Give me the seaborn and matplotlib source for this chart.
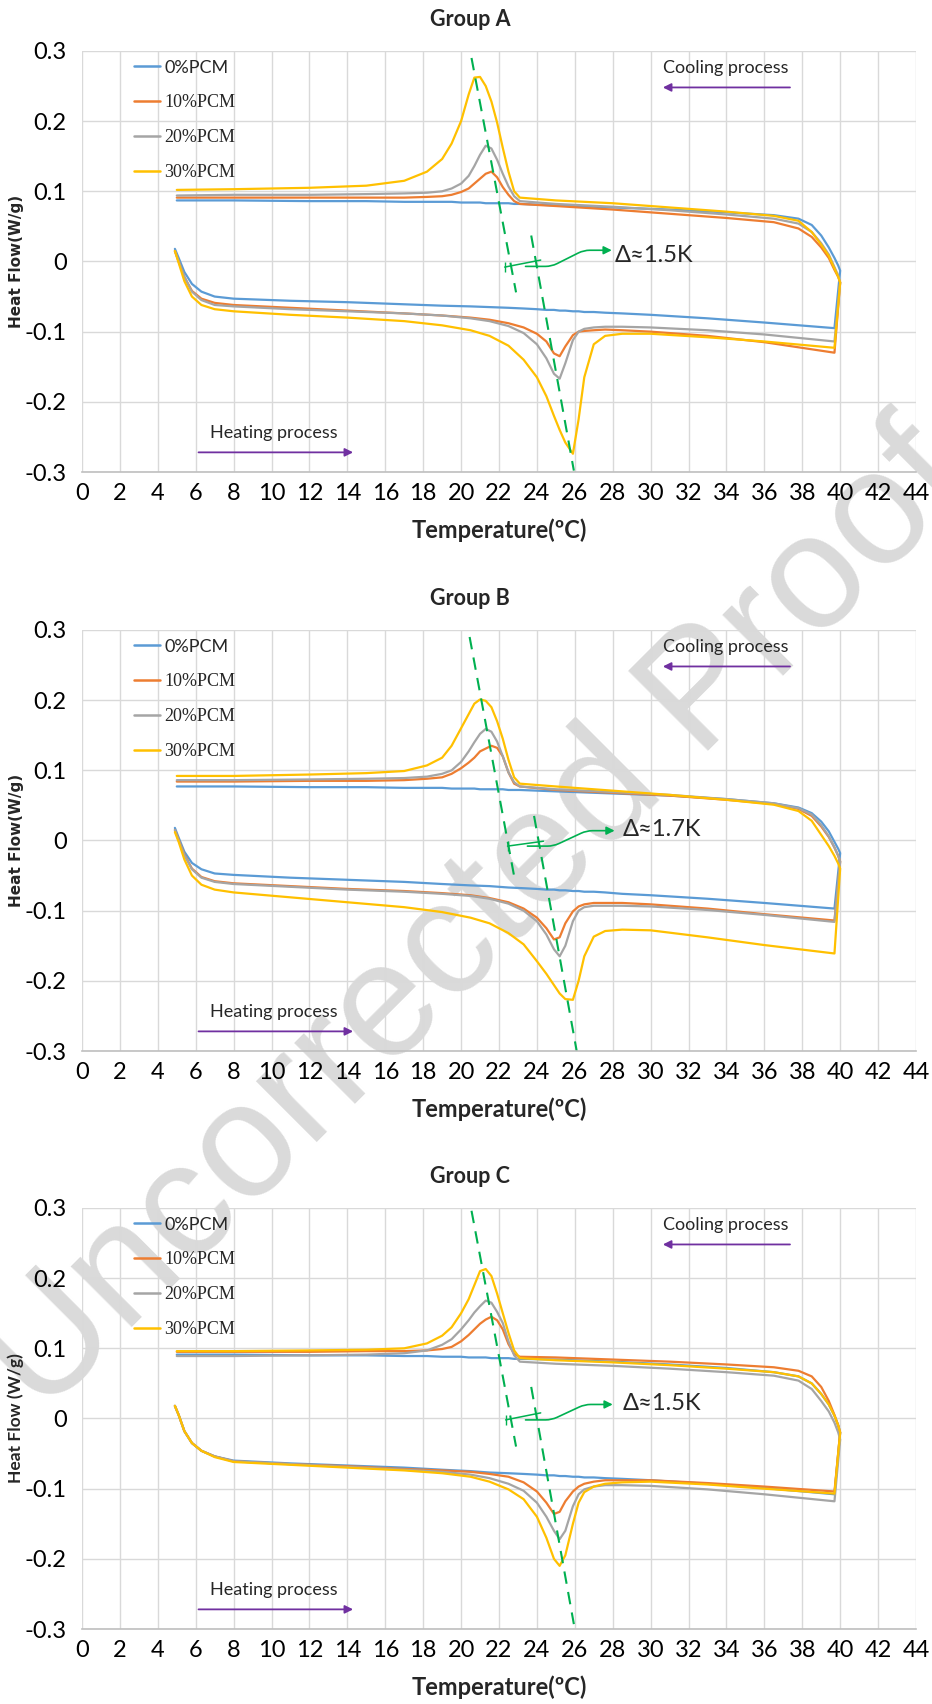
import matplotlib
matplotlib.use("Agg")
import matplotlib.pyplot as plt
import pandas as pd
import seaborn as sns

# series / labels
SERIES = ["0%PCM", "10%PCM", "20%PCM", "30%PCM"]
COLORS = ["#5B9BD5", "#ED7D31", "#A5A5A5", "#FFC000"]
GROUPS = ["Group A", "Group B", "Group C"]
YLABELS = ["Heat Flow(W/g)", "Heat Flow(W/g)", "Heat Flow (W/g)"]
DELTAS = ["Δ≈1.5K", "Δ≈1.7K", "Δ≈1.5K"]

XTICKS = list(range(0, 46, 2))
YTICKS = [-0.3, -0.2, -0.1, 0.0, 0.1, 0.2, 0.3]
YTICK_LABELS = ["-0.3", "-0.2", "-0.1", "0", "0.1", "0.2", "0.3"]

# temperature read-outs (ºC) : heating run 5 -> 40, cooling run 40 -> 5
HEAT_T = [4.9, 5.1, 5.4, 5.8, 6.3, 7.0, 8.0, 11.0, 14.0, 17.0, 19.0, 20.5, 21.5, 22.5, 23.3,
          24.0, 24.5, 24.9, 25.2, 25.5, 25.9, 26.2, 26.5, 27.0, 27.6, 28.5, 30.0, 33.0, 36.0, 39.7]
COOL_T = [40.0, 39.9, 39.7, 39.4, 39.0, 38.5, 37.8, 36.5, 34.0, 31.0, 28.0, 25.0, 23.1, 22.8, 22.5,
          22.2, 21.9, 21.6, 21.3, 21.0, 20.7, 20.4, 20.0, 19.5, 19.0, 18.2, 17.0, 15.0, 12.0, 8.0, 5.0]

# Group A (W/g)
A_HEAT_0 = [0.018, 0.005, -0.015, -0.032, -0.043, -0.050, -0.053, -0.056, -0.058, -0.061, -0.063, -0.064, -0.065, -0.066, -0.067,
            -0.068, -0.069, -0.069, -0.070, -0.070, -0.071, -0.071, -0.072, -0.072, -0.073, -0.074, -0.076, -0.081, -0.087, -0.095]
A_HEAT_10 = [0.015, 0.000, -0.022, -0.042, -0.053, -0.059, -0.062, -0.066, -0.070, -0.074, -0.077, -0.080, -0.083, -0.088, -0.094,
             -0.103, -0.114, -0.131, -0.135, -0.121, -0.105, -0.100, -0.099, -0.098, -0.097, -0.098, -0.100, -0.106, -0.115, -0.130]
A_HEAT_20 = [0.015, 0.000, -0.022, -0.043, -0.055, -0.062, -0.064, -0.068, -0.071, -0.074, -0.077, -0.081, -0.085, -0.092, -0.102,
             -0.118, -0.138, -0.160, -0.167, -0.145, -0.112, -0.100, -0.096, -0.094, -0.093, -0.093, -0.094, -0.098, -0.104, -0.114]
A_HEAT_30 = [0.015, -0.002, -0.028, -0.050, -0.062, -0.068, -0.071, -0.076, -0.080, -0.085, -0.091, -0.098, -0.106, -0.120, -0.140,
             -0.165, -0.192, -0.220, -0.240, -0.258, -0.274, -0.225, -0.165, -0.118, -0.106, -0.103, -0.103, -0.108, -0.114, -0.123]
A_COOL_0 = [-0.013, -0.006, 0.005, 0.020, 0.037, 0.052, 0.061, 0.066, 0.070, 0.074, 0.077, 0.080, 0.082, 0.082, 0.083,
            0.083, 0.083, 0.083, 0.083, 0.084, 0.084, 0.084, 0.084, 0.085, 0.085, 0.085, 0.085, 0.086, 0.086, 0.087, 0.087]
A_COOL_10 = [-0.030, -0.022, -0.012, 0.005, 0.020, 0.035, 0.047, 0.056, 0.062, 0.068, 0.074, 0.079, 0.082, 0.086, 0.095,
             0.106, 0.120, 0.128, 0.125, 0.118, 0.111, 0.104, 0.099, 0.095, 0.093, 0.092, 0.091, 0.091, 0.091, 0.091, 0.091]
A_COOL_20 = [-0.030, -0.020, -0.008, 0.010, 0.026, 0.042, 0.054, 0.061, 0.067, 0.073, 0.078, 0.082, 0.086, 0.093, 0.107,
             0.125, 0.145, 0.161, 0.165, 0.152, 0.136, 0.122, 0.111, 0.104, 0.100, 0.098, 0.097, 0.096, 0.095, 0.095, 0.094]
A_COOL_30 = [-0.030, -0.022, -0.010, 0.008, 0.024, 0.042, 0.058, 0.065, 0.071, 0.077, 0.083, 0.087, 0.091, 0.100, 0.128,
             0.162, 0.198, 0.228, 0.250, 0.263, 0.262, 0.238, 0.200, 0.168, 0.146, 0.128, 0.115, 0.108, 0.105, 0.103, 0.102]

# Group B
B_HEAT_0 = [0.018, 0.004, -0.016, -0.032, -0.041, -0.047, -0.049, -0.053, -0.056, -0.059, -0.062, -0.064, -0.065, -0.067, -0.068,
            -0.069, -0.070, -0.070, -0.071, -0.071, -0.072, -0.072, -0.073, -0.073, -0.074, -0.076, -0.078, -0.083, -0.089, -0.097]
B_HEAT_10 = [0.015, 0.001, -0.020, -0.040, -0.052, -0.058, -0.061, -0.065, -0.069, -0.072, -0.075, -0.078, -0.082, -0.088, -0.097,
             -0.110, -0.125, -0.141, -0.138, -0.118, -0.101, -0.094, -0.091, -0.089, -0.089, -0.089, -0.091, -0.097, -0.105, -0.114]
B_HEAT_20 = [0.015, 0.000, -0.021, -0.041, -0.053, -0.059, -0.062, -0.066, -0.070, -0.073, -0.076, -0.079, -0.083, -0.090, -0.100,
             -0.115, -0.134, -0.155, -0.165, -0.150, -0.115, -0.100, -0.095, -0.093, -0.093, -0.093, -0.094, -0.099, -0.106, -0.116]
B_HEAT_30 = [0.012, -0.002, -0.027, -0.050, -0.063, -0.070, -0.074, -0.081, -0.088, -0.095, -0.102, -0.110, -0.118, -0.132, -0.148,
             -0.172, -0.190, -0.206, -0.218, -0.226, -0.227, -0.200, -0.165, -0.137, -0.129, -0.127, -0.128, -0.138, -0.149, -0.161]
B_COOL_0 = [-0.018, -0.012, -0.002, 0.013, 0.027, 0.039, 0.047, 0.053, 0.059, 0.064, 0.067, 0.070, 0.072, 0.072, 0.072,
            0.073, 0.073, 0.073, 0.073, 0.073, 0.074, 0.074, 0.074, 0.074, 0.075, 0.075, 0.075, 0.076, 0.076, 0.077, 0.077]
B_COOL_10 = [-0.030, -0.022, -0.010, 0.005, 0.020, 0.035, 0.045, 0.052, 0.058, 0.064, 0.068, 0.072, 0.077, 0.081, 0.097,
             0.120, 0.132, 0.135, 0.131, 0.127, 0.118, 0.111, 0.103, 0.095, 0.090, 0.088, 0.086, 0.085, 0.085, 0.084, 0.084]
B_COOL_20 = [-0.030, -0.022, -0.010, 0.006, 0.022, 0.037, 0.046, 0.053, 0.059, 0.065, 0.069, 0.073, 0.077, 0.083, 0.097,
             0.120, 0.141, 0.155, 0.159, 0.152, 0.140, 0.127, 0.112, 0.100, 0.095, 0.091, 0.089, 0.088, 0.087, 0.086, 0.086]
B_COOL_30 = [-0.040, -0.033, -0.022, -0.008, 0.008, 0.028, 0.042, 0.051, 0.058, 0.065, 0.071, 0.077, 0.081, 0.090, 0.115,
             0.145, 0.170, 0.190, 0.199, 0.201, 0.195, 0.180, 0.160, 0.135, 0.118, 0.107, 0.099, 0.096, 0.094, 0.092, 0.092]

# Group C
C_HEAT_0 = [0.018, 0.005, -0.018, -0.035, -0.046, -0.054, -0.060, -0.064, -0.067, -0.070, -0.073, -0.075, -0.077, -0.078, -0.079,
            -0.080, -0.081, -0.081, -0.082, -0.082, -0.083, -0.083, -0.084, -0.084, -0.085, -0.086, -0.088, -0.093, -0.099, -0.108]
C_HEAT_10 = [0.018, 0.005, -0.018, -0.035, -0.046, -0.054, -0.061, -0.065, -0.068, -0.072, -0.074, -0.076, -0.079, -0.083, -0.091,
             -0.104, -0.120, -0.136, -0.133, -0.118, -0.104, -0.097, -0.093, -0.090, -0.088, -0.088, -0.088, -0.092, -0.097, -0.104]
C_HEAT_20 = [0.018, 0.005, -0.018, -0.035, -0.046, -0.054, -0.061, -0.065, -0.069, -0.073, -0.076, -0.080, -0.085, -0.093, -0.103,
             -0.120, -0.140, -0.160, -0.172, -0.160, -0.125, -0.108, -0.101, -0.097, -0.095, -0.095, -0.096, -0.101, -0.108, -0.118]
C_HEAT_30 = [0.018, 0.005, -0.018, -0.035, -0.046, -0.055, -0.062, -0.066, -0.070, -0.074, -0.078, -0.083, -0.090, -0.101, -0.115,
             -0.140, -0.170, -0.200, -0.210, -0.195, -0.150, -0.120, -0.105, -0.097, -0.093, -0.091, -0.090, -0.094, -0.100, -0.107]
C_COOL_0 = [-0.020, -0.010, 0.004, 0.020, 0.035, 0.050, 0.060, 0.066, 0.072, 0.077, 0.081, 0.084, 0.085, 0.085, 0.086,
            0.086, 0.086, 0.086, 0.087, 0.087, 0.087, 0.087, 0.088, 0.088, 0.088, 0.089, 0.089, 0.090, 0.090, 0.091, 0.091]
C_COOL_10 = [-0.020, -0.010, 0.005, 0.025, 0.045, 0.060, 0.068, 0.073, 0.077, 0.081, 0.084, 0.087, 0.088, 0.092, 0.106,
             0.127, 0.140, 0.145, 0.141, 0.135, 0.127, 0.119, 0.110, 0.102, 0.099, 0.097, 0.096, 0.096, 0.095, 0.095, 0.095]
C_COOL_20 = [-0.030, -0.020, -0.006, 0.010, 0.025, 0.042, 0.054, 0.061, 0.066, 0.071, 0.075, 0.078, 0.081, 0.090, 0.110,
             0.136, 0.152, 0.165, 0.168, 0.160, 0.151, 0.140, 0.127, 0.113, 0.105, 0.097, 0.093, 0.091, 0.090, 0.089, 0.089]
C_COOL_30 = [-0.020, -0.010, 0.004, 0.020, 0.035, 0.050, 0.060, 0.066, 0.071, 0.076, 0.080, 0.083, 0.086, 0.097, 0.122,
             0.150, 0.178, 0.203, 0.213, 0.210, 0.190, 0.170, 0.150, 0.130, 0.118, 0.107, 0.100, 0.098, 0.097, 0.096, 0.096]

HEAT_RUNS = [[A_HEAT_0, A_HEAT_10, A_HEAT_20, A_HEAT_30],
             [B_HEAT_0, B_HEAT_10, B_HEAT_20, B_HEAT_30],
             [C_HEAT_0, C_HEAT_10, C_HEAT_20, C_HEAT_30]]
COOL_RUNS = [[A_COOL_0, A_COOL_10, A_COOL_20, A_COOL_30],
             [B_COOL_0, B_COOL_10, B_COOL_20, B_COOL_30],
             [C_COOL_0, C_COOL_10, C_COOL_20, C_COOL_30]]

# green guide lines and delta annotation (data coords)
COOL_GUIDE_T = [[20.55, 22.9], [20.45, 22.8], [20.55, 22.9]]
COOL_GUIDE_H = [[0.290, -0.044], [0.290, -0.051], [0.296, -0.040]]
HEAT_GUIDE_T = [[23.7, 25.95], [23.85, 26.1], [23.7, 25.95]]
HEAT_GUIDE_H = [[0.037, -0.298], [0.035, -0.300], [0.045, -0.293]]
BRACKET_T = [[22.3, 24.2], [22.45, 24.35], [22.35, 24.2]]
BRACKET_H = [[-0.008, 0.002], [-0.008, -0.001], [-0.002, 0.008]]
ARROW_FROM = [(23.4, -0.007), (23.5, -0.008), (23.4, -0.002)]
ARROW_TO = [(27.95, 0.016), (28.1, 0.014), (28.0, 0.020)]
DELTA_POS = [(28.1, 0.008), (28.5, 0.016), (28.5, 0.021)]

sns.set_style("whitegrid", {"grid.color": "#d9d9d9", "axes.edgecolor": "#bfbfbf"})
plt.rcParams["font.family"] = ["Lato", "DejaVu Sans"]
plt.rcParams["axes.unicode_minus"] = False

fig = plt.figure(figsize=(9.32, 17.04), dpi=100)
fig.patch.set_facecolor("white")

# watermark behind everything
fig.text(0.513, 0.459, "Uncorrected Proof", rotation=45, fontsize=117, color="#dadada",
         family="Liberation Sans", ha="center", va="center", zorder=-1)

bottoms = [0.7230, 0.3832, 0.0440]
purple = "#7030A0"
green = "#00B050"

for i, grp in enumerate(GROUPS):
    ax = fig.add_axes([0.088, bottoms[i], 0.8948, 0.2471])
    ax.patch.set_alpha(0)

    frames = []
    for name, h, c in zip(SERIES, HEAT_RUNS[i], COOL_RUNS[i]):
        frames.append(pd.DataFrame({"T": HEAT_T + COOL_T, "H": h + c, "series": name}))
    df = pd.concat(frames, ignore_index=True)

    sns.lineplot(data=df, x="T", y="H", hue="series", hue_order=SERIES, palette=COLORS,
                 sort=False, estimator=None, linewidth=1.6, ax=ax)

    ax.set_xlim(0, 44)
    ax.set_ylim(-0.3, 0.3)
    ax.set_xticks(XTICKS)
    ax.set_yticks(YTICKS)
    ax.set_yticklabels(YTICK_LABELS)
    ax.tick_params(axis="both", length=0, labelsize=17, colors="black")
    ax.tick_params(axis="x", pad=8)
    ax.tick_params(axis="y", pad=11)
    ax.grid(True, color="#d9d9d9", linewidth=1)
    for s in ["left", "top", "right"]:
        ax.spines[s].set_visible(False)
    ax.spines["bottom"].set_color("#bfbfbf")
    ax.spines["bottom"].set_linewidth(1.2)

    ax.set_xlabel("Temperature(ºC)", fontsize=17, fontweight="bold")
    ax.xaxis.set_label_coords(0.5, -0.11)
    if i < 2:
        ax.set_ylabel(YLABELS[i], fontsize=11, fontweight="bold", family="DejaVu Sans")
    else:
        ax.set_ylabel(YLABELS[i], fontsize=12.5, fontweight="bold")
    ax.yaxis.set_label_coords(-0.07, 0.5)
    ax.text(0.465, 1.075, grp, transform=ax.transAxes, ha="center", va="center",
            fontsize=15.5, fontweight="bold")

    # legend
    handles, labels = ax.get_legend_handles_labels()
    leg = ax.legend(handles, labels, loc="upper left", bbox_to_anchor=(0.062, 0.979),
                    frameon=False, fontsize=13, handlelength=1.45, handletextpad=0.25,
                    labelspacing=1.0, borderpad=0, borderaxespad=0)
    for t in leg.get_texts()[1:]:
        t.set_fontfamily("Liberation Serif")
    for ln in leg.get_lines():
        ln.set_linewidth(1.8)

    # process arrows
    ax.text(30.65, 0.276, "Cooling process", fontsize=13, ha="left", va="center")
    ax.annotate("", xy=(30.5, 0.248), xytext=(37.5, 0.248),
                arrowprops=dict(arrowstyle="-|>", color=purple, lw=1.3, mutation_scale=12))
    ax.text(6.75, -0.245, "Heating process", fontsize=13, ha="left", va="center")
    ax.annotate("", xy=(14.45, -0.272), xytext=(6.0, -0.272),
                arrowprops=dict(arrowstyle="-|>", color=purple, lw=1.3, mutation_scale=12))

    # peak guide lines
    ax.plot(COOL_GUIDE_T[i], COOL_GUIDE_H[i], color=green, lw=1.5, ls=(0, (6, 4)))
    ax.plot(HEAT_GUIDE_T[i], HEAT_GUIDE_H[i], color=green, lw=1.5, ls=(0, (6, 4)))
    ax.plot(BRACKET_T[i], BRACKET_H[i], color=green, lw=1.1, marker="|", markersize=7,
            markevery=[0])
    ax.annotate("", xy=ARROW_TO[i], xytext=ARROW_FROM[i],
                arrowprops=dict(arrowstyle="-|>", color=green, lw=1.2, mutation_scale=12,
                                shrinkA=0, shrinkB=0,
                                connectionstyle="arc,angleA=0,armA=26,angleB=180,armB=28,rad=6"))
    ax.text(DELTA_POS[i][0], DELTA_POS[i][1], DELTAS[i], fontsize=17, ha="left", va="center",
            family=["Lato", "DejaVu Sans"])

fig.savefig("out.png", dpi=100, facecolor="white")
